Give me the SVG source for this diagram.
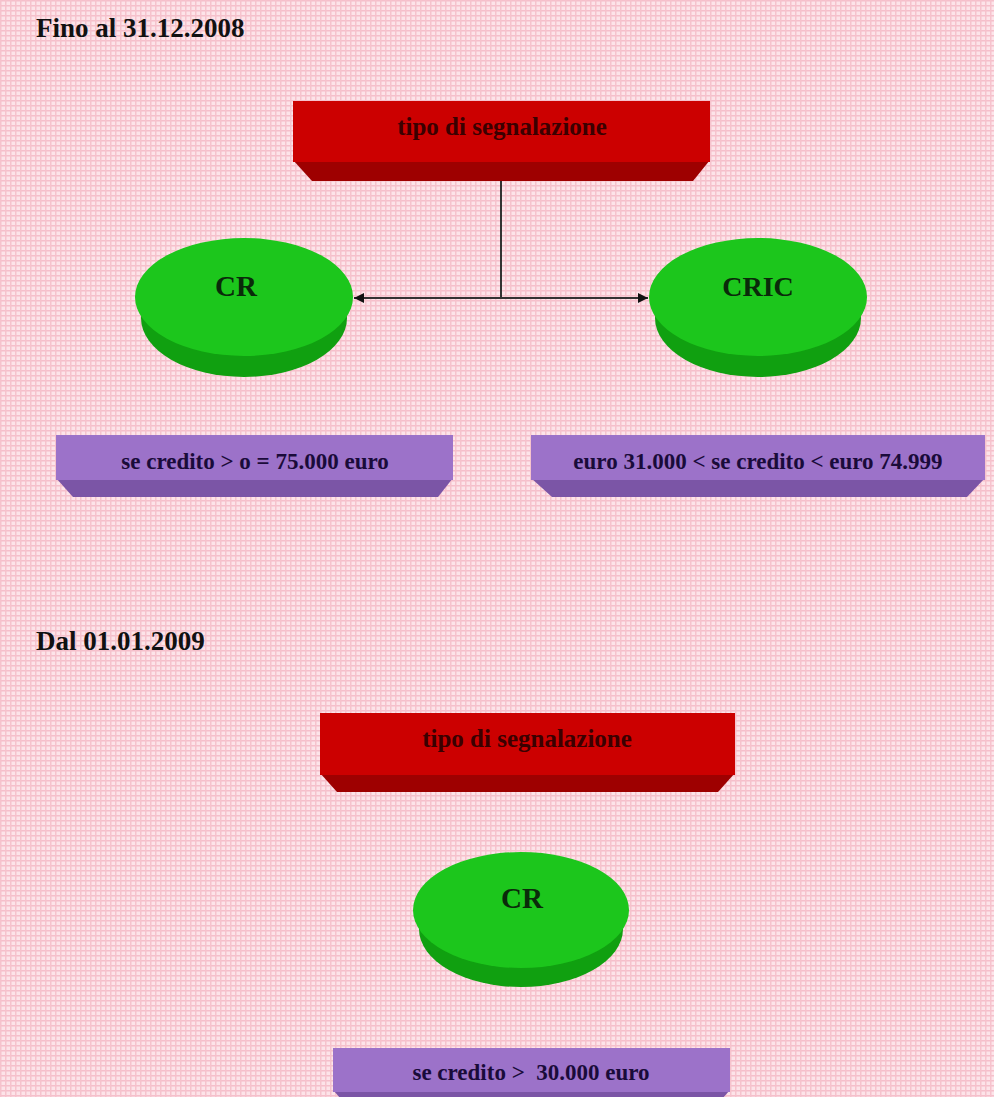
<svg xmlns="http://www.w3.org/2000/svg" width="994" height="1097" viewBox="0 0 994 1097">
<defs>
<pattern id="grid" width="5" height="5" patternUnits="userSpaceOnUse">
<rect width="5" height="5" fill="#fde4e9"/>
<rect x="0" y="0" width="5" height="1.5" fill="#f6bfcb"/>
<rect x="0" y="0" width="1.5" height="5" fill="#f6c3cd"/>
</pattern>
<marker id="arr" viewBox="0 0 10 10" refX="10" refY="5" markerWidth="10" markerHeight="10" markerUnits="userSpaceOnUse" orient="auto-start-reverse">
<path d="M0,0 L10,5 L0,10 z" fill="#111"/>
</marker>
<style>
.title{font-family:"Liberation Serif",serif;font-weight:bold;font-size:27px;fill:#111}
.rtop{fill:#cc0000}
.rbev{fill:#9e0000}
.rtxt{font-family:"Liberation Serif",serif;font-weight:bold;font-size:25px;fill:#3a0000;text-anchor:middle}
.gtop{fill:#1cc61c}
.gside{fill:#10a010}
.gtxt{font-family:"Liberation Serif",serif;font-weight:bold;font-size:29px;fill:#0a2a0a;text-anchor:middle}
.ptop{fill:#9c72c9}
.pbev{fill:#7b55a6}
.ptxt{font-family:"Liberation Serif",serif;font-weight:bold;font-size:23px;fill:#1a0b3a;text-anchor:middle}
.conn{stroke:#333;stroke-width:2;fill:none}
</style>
</defs>
<rect width="994" height="1097" fill="url(#grid)"/>

<text class="title" x="36" y="37">Fino al 31.12.2008</text>
<text class="title" x="36" y="650">Dal 01.01.2009</text>

<g id="connectors">
<path class="conn" d="M501,162 L501,298"/>
<path class="conn" d="M501,298 L354,298" marker-end="url(#arr)"/>
<path class="conn" d="M501,298 L648,298" marker-end="url(#arr)"/>
</g>

<g id="tipo1">
<polygon class="rbev" points="293,160 710,160 693,181 312,181"/>
<rect class="rtop" x="293" y="101" width="417" height="61"/>
<text class="rtxt" x="502" y="135">tipo di segnalazione</text>
</g>

<g id="cr1">
<ellipse class="gside" cx="244" cy="318" rx="103" ry="59"/>
<ellipse class="gtop" cx="244" cy="297" rx="109" ry="59"/>
<text class="gtxt" x="236" y="296">CR</text>
</g>

<g id="cric1">
<ellipse class="gside" cx="758" cy="318" rx="103" ry="59"/>
<ellipse class="gtop" cx="758" cy="297" rx="109" ry="59"/>
<text class="gtxt" x="758" y="296" style="font-size:28px">CRIC</text>
</g>

<g id="cond1">
<polygon class="pbev" points="56,478 453,478 438,497 73,497"/>
<rect class="ptop" x="56" y="435" width="397" height="45"/>
<text class="ptxt" x="255" y="469">se credito &gt; o = 75.000 euro</text>
</g>

<g id="cond2">
<polygon class="pbev" points="531,478 985,478 967,497 552,497"/>
<rect class="ptop" x="531" y="435" width="454" height="45"/>
<text class="ptxt" x="758" y="469">euro 31.000 &lt; se credito &lt; euro 74.999</text>
</g>

<g id="tipo2">
<polygon class="rbev" points="320,773 735,773 718,792 337,792"/>
<rect class="rtop" x="320" y="713" width="415" height="62"/>
<text class="rtxt" x="527" y="747">tipo di segnalazione</text>
</g>

<g id="cr2">
<ellipse class="gside" cx="521" cy="929" rx="102" ry="58"/>
<ellipse class="gtop" cx="521" cy="910" rx="108" ry="58"/>
<text class="gtxt" x="522" y="908">CR</text>
</g>

<g id="cond3">
<polygon class="pbev" points="333,1090 730,1090 714,1108 349,1108"/>
<rect class="ptop" x="333" y="1048" width="397" height="44"/>
<text class="ptxt" x="531" y="1080">se credito &gt;&#160; 30.000 euro</text>
</g>
</svg>
